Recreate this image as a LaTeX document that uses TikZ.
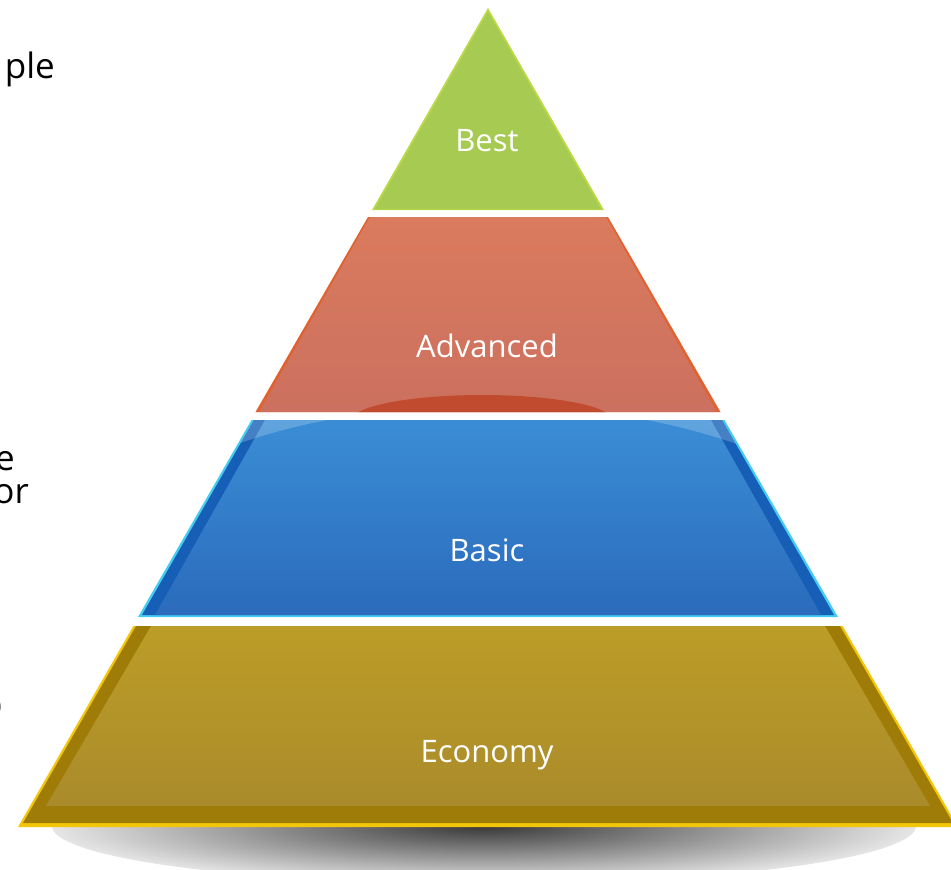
\documentclass[tikz,border=0pt]{standalone}
\usepackage{fontspec}
\setmainfont{Open Sans}
\definecolor{bestF}{HTML}{A6CA52}
\definecolor{bestE}{HTML}{B9DA45}
\definecolor{advT}{HTML}{DA7B5E}
\definecolor{advB}{HTML}{CC705F}
\definecolor{advE}{HTML}{E2622F}
\definecolor{advD}{HTML}{C14B2E}
\definecolor{basT}{HTML}{3A8DD5}
\definecolor{basB}{HTML}{2B6BBC}
\definecolor{basD}{HTML}{175FB6}
\definecolor{basE}{HTML}{45CCF5}
\definecolor{ecoT}{HTML}{BB9D27}
\definecolor{ecoB}{HTML}{AA8B2B}
\definecolor{ecoD}{HTML}{9F7C08}
\definecolor{ecoE}{HTML}{F4C60A}
\tikzset{
  layerlabel/.style={text=white, font=\fontsize{31}{31}\selectfont, inner sep=0pt},
  sidetext/.style={text=black, font=\fontsize{35}{38}\selectfont, inner sep=0pt},
}
\begin{document}
\begin{tikzpicture}[x=1pt,y=-1pt]
\useasboundingbox (0,0) rectangle (951,870);
\fill[white] (0,0) rectangle (951,870);
% shadow
\begin{scope}
  \clip (0,826) rectangle (951,870);
  \shade[inner color=black!78, outer color=black!10] (484,826) ellipse [x radius=432, y radius=58];
\end{scope}
% Economy
\fill[ecoE] (133.3,626) -- (842.7,626) -- (958,827) -- (18,827) -- cycle;
\fill[ecoD] (136,626) -- (840,626) -- (953,823) -- (23,823) -- cycle;
\shade[top color=ecoT, bottom color=ecoB] (151,626) -- (825,626) -- (930,806) -- (46,806) -- cycle;
% Basic
\fill[basE] (251.5,420) -- (724.5,420) -- (838,617) -- (138,617) -- cycle;
\fill[basD] (254,420) -- (722,420) -- (834,615) -- (142,615) -- cycle;
\shade[top color=basT, bottom color=basB] (265,420) -- (711,420) -- (821,615) -- (155,615) -- cycle;
\begin{scope}
  \clip (254,420) -- (722,420) -- (834,615) -- (142,615) -- cycle;
  \fill[white, opacity=0.2, even odd rule] (130,400) rectangle (850,620) (487,615) ellipse [x radius=430, y radius=210];
\end{scope}
% Advanced
\fill[advE] (368,217) -- (608,217) -- (720.5,412) -- (255.5,412) -- cycle;
\shade[top color=advT, bottom color=advB] (370,217) -- (606,217) -- (717,412) -- (259,412) -- cycle;
\begin{scope}
  \clip (370,217) -- (606,217) -- (717,412) -- (259,412) -- cycle;
  \fill[advD] (482,420) ellipse [x radius=130, y radius=25];
\end{scope}
% Best
\fill[bestE] (488,8) -- (604,210) -- (372,210) -- cycle;
\fill[bestF] (488,12) -- (601,209) -- (375,209) -- cycle;
% labels
\node[layerlabel] (best) at (487,141) {Best};
\node[layerlabel] (adv) at (487,346) {Advanced};
\node[layerlabel] (basic) at (487,550) {Basic};
\node[layerlabel] (eco) at (487,755) {Economy};
% side text fragments
\node[sidetext, anchor=base east] (t1) at (55,78) {ple};
\node[sidetext, anchor=base east] (t2) at (15,470) {e};
\node[sidetext, anchor=base east] (t3) at (29,503) {or};
\node[sidetext, anchor=base east, text=black!70] (t4) at (3,716) {o};
\end{tikzpicture}
\end{document}
